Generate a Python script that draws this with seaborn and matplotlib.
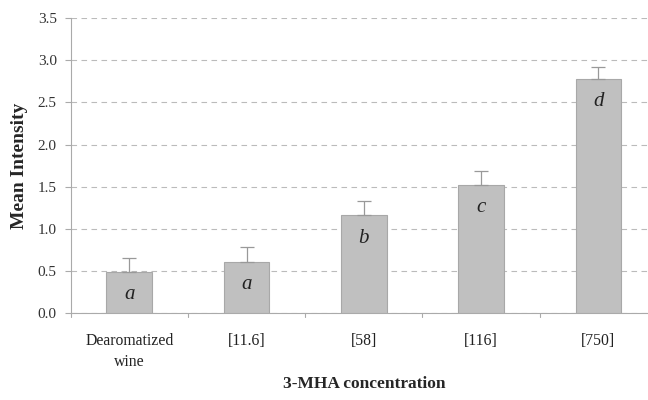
import matplotlib
matplotlib.use("Agg")
import matplotlib.pyplot as plt
import seaborn as sns
import pandas as pd

categories = ["Dearomatized\nwine", "[11.6]", "[58]", "[116]", "[750]"]
means = [0.49, 0.61, 1.16, 1.52, 2.78]
errors = [0.16, 0.17, 0.17, 0.17, 0.14]
letters = ["a", "a", "b", "c", "d"]

df = pd.DataFrame({"conc": categories, "mean": means})

sns.set_style("white")
plt.rcParams["font.family"] = ["Liberation Serif", "DejaVu Serif"]

fig = plt.figure(figsize=(6.48, 4.0), dpi=100)
ax = fig.add_axes([0.109, 0.217, 0.905, 0.738])

sns.barplot(data=df, x="conc", y="mean", color="#c0c0c0", width=0.39,
            edgecolor="#a8a8a8", linewidth=0.8, ax=ax, zorder=3)
ax.errorbar(range(len(means)), means, yerr=[[0] * len(errors), errors],
            fmt="none", ecolor="#999999", elinewidth=0.9, capsize=5,
            capthick=0.9, zorder=4)

for i, (m, l) in enumerate(zip(means, letters)):
    ax.text(i, m - 0.27, l, ha="center", va="center", fontsize=15,
            style="italic", color="#222222", zorder=5)

ax.set_ylim(0, 3.5)
ax.set_xlim(-0.5, 4.5)
ax.set_yticks([i * 0.5 for i in range(8)])
ax.set_yticklabels([f"{i * 0.5:.1f}" for i in range(8)], fontsize=11, color="#333333")
ax.set_xticks(range(len(categories)))
ax.set_xticklabels(categories, fontsize=11.3, color="#222222", linespacing=1.45)
ax.tick_params(axis="x", length=0, pad=14)
ax.tick_params(axis="y", length=4, color="#aaaaaa", direction="out", left=True, pad=6)
for b in [0.5 + k for k in range(-1, 5)]:
    ax.plot([b, b], [0, -0.05], color="#aaaaaa", lw=0.8, clip_on=False, zorder=2)

ax.yaxis.grid(True, linestyle=(0, (5, 4)), color="#bbbbbb", linewidth=0.8, zorder=0)
ax.set_axisbelow(True)
for s in ["top", "right"]:
    ax.spines[s].set_visible(False)
for s in ["left", "bottom"]:
    ax.spines[s].set_color("#aaaaaa")
    ax.spines[s].set_linewidth(0.8)

ax.set_ylabel("Mean Intensity", fontsize=14, fontweight="bold", labelpad=7)
ax.set_xlabel("3-MHA concentration", fontsize=12.5, fontweight="bold", labelpad=4)

fig.savefig("out.png", dpi=100)
